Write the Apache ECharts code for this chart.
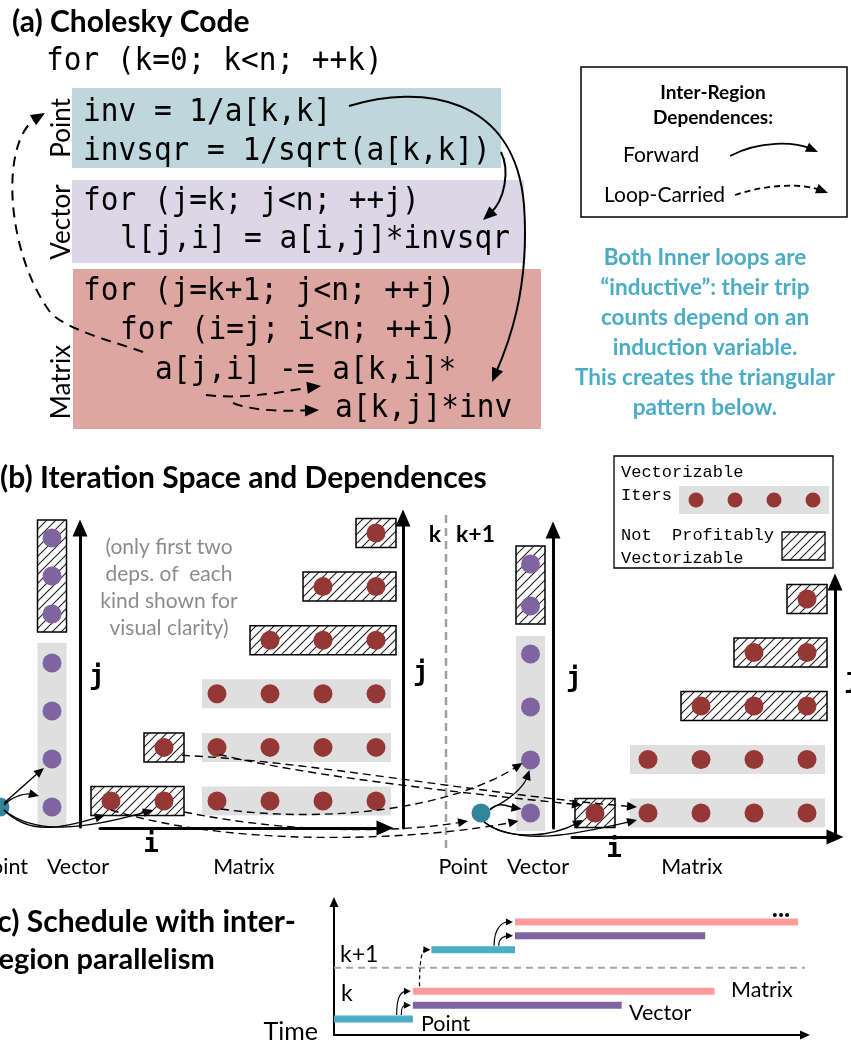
<!DOCTYPE html>
<html>
<head>
<meta charset="utf-8">
<script src="https://cdn.jsdelivr.net/npm/echarts@6/dist/echarts.min.js"></script>
<style>
html, body { margin: 0; padding: 0; background: #fff; }
#chart { width: 851px; height: 1044px; }
</style>
</head>
<body>
<div id="chart"></div>
<script>
// ---------- data ----------
// (b) vector loop iterations j, split into vectorized chunk and remainder
const vecK_vec = [0, 1, 2, 3];
const vecK_rem = [4, 5, 6];
const vecK1_vec = [1, 2, 3, 4];
const vecK1_rem = [5, 6];

// (b) matrix loop iterations [i, j]
const matK_iters = [[1, 1], [2, 1], [3, 1], [4, 1], [5, 1], [6, 1],
  [2, 2], [3, 2], [4, 2], [5, 2], [6, 2],
  [3, 3], [4, 3], [5, 3], [6, 3],
  [4, 4], [5, 4], [6, 4],
  [5, 5], [6, 5],
  [6, 6]];
const matK1_iters = [[2, 2], [3, 2], [4, 2], [5, 2], [6, 2],
  [3, 3], [4, 3], [5, 3], [6, 3],
  [4, 4], [5, 4], [6, 4],
  [5, 5], [6, 5],
  [6, 6]];

// matrix chunks per row: [j, first i, last i]
const matK_vec = [[1, 3, 6], [2, 3, 6], [3, 3, 6]];
const matK_rem = [[1, 1, 2], [2, 2, 2], [4, 4, 6], [5, 5, 6], [6, 6, 6]];
const matK1_vec = [[2, 3, 6], [3, 3, 6]];
const matK1_rem = [[2, 2, 2], [4, 4, 6], [5, 5, 6], [6, 6, 6]];

// dependences: [from space, from iteration, to space, to iteration]
const fwdDepsK = [['pK', [0, 0], 'vK', [0, 1]], ['pK', [0, 0], 'vK', [0, 0]],
  ['pK', [0, 0], 'mK', [1, 1]], ['pK', [0, 0], 'mK', [2, 1]]];
const fwdDepsK1 = [['pK1', [0, 0], 'vK1', [0, 2]], ['pK1', [0, 0], 'vK1', [0, 1]],
  ['pK1', [0, 0], 'mK1', [2, 2]], ['pK1', [0, 0], 'mK1', [3, 2]]];
const carriedDeps = [['mK', [2, 2], 'mK1', [3, 2]], ['mK', [3, 2], 'mK1', [2, 2]],
  ['mK', [3, 1], 'vK1', [0, 2]], ['mK', [2, 1], 'pK1', [0, 0]], ['mK', [1, 1], 'vK1', [0, 1]]];

// (c) schedule: [start, end] in time units for Point, Vector, Matrix
const schedRegions = ['Point', 'Vector', 'Matrix'];
const schedK = [[0, 17], [17, 62], [17, 82]];
const schedK1 = [[21, 39], [39, 80], [39, 100]];

// ---------- look ----------
const FONT = 'Lato, "Open Sans", sans-serif';
const MONO = '"DejaVu Sans Mono", monospace';
const TYPE = '"Liberation Mono", monospace';
const C_MAT = '#953735', C_VEC = '#8064a2', C_PT = '#31859c';
const C_BAND = '#dfdfdf', C_CYAN = '#4bacc6', C_PINK = '#ff9b9b';
const REGION_COLORS = [C_CYAN, C_VEC, C_PINK];

// hatch fill
const hc = document.createElement('canvas');
hc.width = 9; hc.height = 9;
const hx = hc.getContext('2d');
hx.fillStyle = '#fff'; hx.fillRect(0, 0, 9, 9);
hx.strokeStyle = '#222'; hx.lineWidth = 1.1;
hx.beginPath();
hx.moveTo(0, 9); hx.lineTo(9, 0);
hx.moveTo(-2, 2); hx.lineTo(2, -2);
hx.moveTo(7, 11); hx.lineTo(11, 7);
hx.stroke();
const hatchFill = { image: hc, repeat: 'repeat' };

// value at two pixel ends, from two anchors
function span(v0, p0, v1, p1, pa, pb) {
  const k = (v1 - v0) / (p1 - p0);
  return [v0 + (pa - p0) * k, v0 + (pb - p0) * k];
}

const axisOn = (extra, small) => Object.assign({
  axisTick: { show: false }, axisLabel: { show: false }, splitLine: { show: false },
  axisLine: {
    show: true, onZero: false, symbol: ['none', 'triangle'],
    symbolSize: small ? [9, 10] : [15, 17],
    lineStyle: { color: '#000', width: small ? 2 : 3 }
  }
}, extra);
const axisOff = (extra) => Object.assign({ show: false }, extra);
const jName = (gap) => ({ name: 'j', nameLocation: 'middle', nameGap: gap, nameRotate: 0,
  nameTextStyle: { fontFamily: MONO, fontWeight: 'bold', fontSize: 26, color: '#000' } });

// grid rects (pixel) and axis ranges from anchors
const xLm = span(1, 111, 6, 376, 100, 385), yLm = span(1, 801, 6, 533, 828, 518);
const yLv = span(0, 807, 3, 663, 827, 528), yLr = span(4, 614, 6, 538, 827, 528);
const yRv = span(1, 813, 4, 654, 828, 530), yRr = span(5, 606, 6, 564, 828, 530);
const xRm = span(2, 595, 6, 807, 572, 835), yRm = span(2, 813, 6, 599, 837, 582);
const xS = span(0, 334, 100, 798, 334, 805), yS = span(1, 1019, 8, 922, 1035, 902);

function rowBox(pad, hatched) {
  return function (params, api) {
    const a = api.coord([api.value(1), api.value(0)]);
    const b = api.coord([api.value(2), api.value(0)]);
    return {
      type: 'rect',
      shape: { x: a[0] - pad, y: a[1] - 14.5, width: b[0] - a[0] + 2 * pad, height: 29 },
      style: hatched ? { fill: hatchFill, stroke: '#000', lineWidth: 1.5 } : { fill: C_BAND }
    };
  };
}
function colBox(pad, hatched) {
  return function (params, api) {
    const a = api.coord([0, api.value(0)]);
    const b = api.coord([0, api.value(1)]);
    const top = Math.min(a[1], b[1]);
    return {
      type: 'rect',
      shape: { x: a[0] - 14.5, y: top - pad, width: 29, height: Math.abs(a[1] - b[1]) + 2 * pad },
      style: hatched ? { fill: hatchFill, stroke: '#000', lineWidth: 1.5 } : { fill: C_BAND }
    };
  };
}
const dots = (xi, yi, data, color) => ({
  type: 'scatter', xAxisIndex: xi, yAxisIndex: yi, data, symbolSize: 19, clip: false,
  itemStyle: { color, opacity: 1 }, z: 4, silent: true
});
const box = (xi, yi, data, fn) => ({
  type: 'custom', xAxisIndex: xi, yAxisIndex: yi, data, renderItem: fn, z: 2, silent: true
});

const schedRows = [[1, 2, 3], [6, 7, 8]];
const schedBars = [];
schedK.forEach((b, r) => schedBars.push([b[0], b[1], schedRows[0][r], r]));
schedK1.forEach((b, r) => schedBars.push([b[0], b[1], schedRows[1][r], r]));

const chart = echarts.init(document.getElementById('chart'));
chart.setOption({
  animation: false,
  backgroundColor: '#fff',
  grid: [
    { left: 0, top: 797, width: 20, height: 20 },     // point k (dot sits on the left edge)
    { left: 24, top: 528, width: 56, height: 299 },   // vector k
    { left: 100, top: 518, width: 285, height: 310 }, // matrix k
    { left: 461, top: 803, width: 40, height: 20 },   // point k+1
    { left: 508, top: 530, width: 45, height: 298 },  // vector k+1
    { left: 572, top: 582, width: 263, height: 255 }, // matrix k+1
    { left: 334, top: 902, width: 471, height: 133 }  // schedule
  ],
  xAxis: [
    axisOff({ gridIndex: 0, type: 'value', min: 0, max: 1 }),
    axisOff({ gridIndex: 1, type: 'category', data: ['Vector'] }),
    axisOn({ gridIndex: 2, type: 'value', min: xLm[0], max: xLm[1] }),
    axisOff({ gridIndex: 3, type: 'category', data: ['Point'] }),
    axisOff({ gridIndex: 4, type: 'category', data: ['Vector'] }),
    axisOn({ gridIndex: 5, type: 'value', min: xRm[0], max: xRm[1] }),
    axisOn({ gridIndex: 6, type: 'value', min: xS[0], max: xS[1] }, true)
  ],
  yAxis: [
    axisOff({ gridIndex: 0, type: 'category', data: ['k'] }),
    axisOn(Object.assign({ gridIndex: 1, type: 'value', position: 'right', min: yLv[0], max: yLv[1] }, jName(9))),
    axisOff({ gridIndex: 1, type: 'value', position: 'left', min: yLr[0], max: yLr[1] }),
    axisOn(Object.assign({ gridIndex: 2, type: 'value', position: 'right', offset: 18, min: yLm[0], max: yLm[1] }, jName(10))),
    axisOff({ gridIndex: 3, type: 'category', data: ['k+1'] }),
    axisOn(Object.assign({ gridIndex: 4, type: 'value', position: 'right', min: yRv[0], max: yRv[1] }, jName(13))),
    axisOff({ gridIndex: 4, type: 'value', position: 'left', min: yRr[0], max: yRr[1] }),
    axisOn({ gridIndex: 5, type: 'value', position: 'right', min: yRm[0], max: yRm[1] }),
    axisOn({ gridIndex: 6, type: 'value', min: yS[0], max: yS[1] }, true)
  ],
  series: [
    // k
    box(1, 1, [[vecK_vec[0], vecK_vec[vecK_vec.length - 1]]], colBox(20, false)),
    box(1, 2, [[vecK_rem[0], vecK_rem[vecK_rem.length - 1]]], colBox(18, true)),
    box(2, 3, matK_vec, rowBox(15, false)),
    box(2, 3, matK_rem, rowBox(20, true)),
    dots(0, 0, [[0, 0]], C_PT),
    dots(1, 1, vecK_vec.map(j => [0, j]), C_VEC),
    dots(1, 2, vecK_rem.map(j => [0, j]), C_VEC),
    dots(2, 3, matK_iters, C_MAT),
    // k+1
    box(4, 5, [[vecK1_vec[0], vecK1_vec[vecK1_vec.length - 1]]], colBox(18, false)),
    box(4, 6, [[vecK1_rem[0], vecK1_rem[vecK1_rem.length - 1]]], colBox(18, true)),
    box(5, 7, matK1_vec, rowBox(18, false)),
    box(5, 7, matK1_rem, rowBox(20, true)),
    dots(3, 4, [[0, 0]], C_PT),
    dots(4, 5, vecK1_vec.map(j => [0, j]), C_VEC),
    dots(4, 6, vecK1_rem.map(j => [0, j]), C_VEC),
    dots(5, 7, matK1_iters, C_MAT),
    // schedule
    {
      type: 'custom', xAxisIndex: 6, yAxisIndex: 8, data: schedBars, z: 3, silent: true,
      renderItem(params, api) {
        const s = api.coord([api.value(0), api.value(2)]);
        const e = api.coord([api.value(1), api.value(2)]);
        return {
          type: 'rect', shape: { x: s[0], y: s[1] - 3.5, width: e[0] - s[0], height: 7 },
          style: { fill: REGION_COLORS[api.value(3)] }
        };
      }
    },
    {
      type: 'custom', xAxisIndex: 6, yAxisIndex: 8, data: [[4.7]], z: 2, silent: true,
      renderItem(params, api) {
        const a = api.coord([0, api.value(0)]), b = api.coord([101.5, api.value(0)]);
        return {
          type: 'line', shape: { x1: a[0], y1: a[1], x2: b[0], y2: b[1] },
          style: { stroke: '#a6a6a6', lineWidth: 2, lineDash: [7, 5] }
        };
      }
    }
  ]
});

// ---------- annotations ----------
const G = [];
function txt(x, y, text, font, o) {
  o = o || {};
  const el = {
    type: 'text', x, y, z: 10, silent: true,
    style: { text, font, fill: o.fill || '#000', textAlign: o.align || 'left', textVerticalAlign: 'middle' }
  };
  if (o.rot) el.rotation = o.rot;
  if (o.sx) el.scaleX = o.sx;
  G.push(el);
}
function rect(x, y, w, h, style, z) {
  G.push({ type: 'rect', z: z || 1, silent: true, shape: { x, y, width: w, height: h }, style });
}
// cubic chain: p0, c1, c2, p1, c1, c2, p2 ... ; arrow head at the last point
function arrow(pts, o) {
  const n = pts.length, tip = pts[n - 1], c = pts[n - 2];
  const dx = tip[0] - c[0], dy = tip[1] - c[1], d = Math.hypot(dx, dy) || 1;
  const ux = dx / d, uy = dy / d, L = o.head[0], W = o.head[1];
  const bx = tip[0] - ux * L, by = tip[1] - uy * L;
  for (let k = 1; k + 2 < n; k += 3) {
    const s = pts[k - 1];
    const e = (k + 2 === n - 1) ? [tip[0] - ux * L * 0.7, tip[1] - uy * L * 0.7] : pts[k + 2];
    G.push({ type: 'bezierCurve', z: 20, silent: true,
      shape: { x1: s[0], y1: s[1], cpx1: pts[k][0], cpy1: pts[k][1], cpx2: pts[k + 1][0], cpy2: pts[k + 1][1], x2: e[0], y2: e[1] },
      style: { fill: null, stroke: '#000', lineWidth: o.w, lineDash: o.dash || null } });
  }
  G.push({ type: 'polygon', z: 21, silent: true,
    shape: { points: [tip, [bx - uy * W, by + ux * W], [bx + uy * W, by - ux * W]] }, style: { fill: '#000' } });
}
const SPACE = { pK: [0, 0], vK: [1, 1], mK: [2, 3], pK1: [3, 4], vK1: [4, 5], mK1: [5, 7], sched: [6, 8] };
function px(space, v) {
  const a = SPACE[space];
  return chart.convertToPixel({ xAxisIndex: a[0], yAxisIndex: a[1] }, v);
}
function depArrow(dep, lay, o) {
  const s = px(dep[0], dep[1]), e = px(dep[2], dep[3]);
  const p0 = [s[0] + lay[0][0], s[1] + lay[0][1]], p1 = [e[0] + lay[1][0], e[1] + lay[1][1]];
  arrow([p0, [p0[0] + lay[2][0], p0[1] + lay[2][1]], [p1[0] + lay[3][0], p1[1] + lay[3][1]], p1], o);
}

// (a) code
txt(12, 22, '(a) Cholesky Code', 'bold 30px ' + FONT);
rect(72, 88, 429, 80, { fill: '#bdd7dc' });
rect(72, 180, 452, 83, { fill: '#dcd7e6' });
rect(73, 269, 468, 160, { fill: '#dda6a1' });
const CODE = '32px ' + MONO, SX = 0.92;
txt(46, 62, 'for (k=0; k<n; ++k)', CODE, { sx: SX });
txt(83, 113, 'inv = 1/a[k,k]', CODE, { sx: SX });
txt(83, 152, 'invsqr = 1/sqrt(a[k,k])', CODE, { sx: SX });
txt(83, 202, 'for (j=k; j<n; ++j)', CODE, { sx: SX });
txt(120, 240, 'l[j,i] = a[i,j]*invsqr', CODE, { sx: SX });
txt(83, 292, 'for (j=k+1; j<n; ++j)', CODE, { sx: SX });
txt(120, 331, 'for (i=j; i<n; ++i)', CODE, { sx: SX });
txt(155, 371, 'a[j,i] -= a[k,i]*', CODE, { sx: SX });
txt(335, 409, 'a[k,j]*inv', CODE, { sx: SX });
txt(62, 128, 'Point', '26px ' + FONT, { align: 'center', rot: Math.PI / 2 });
txt(62, 222, 'Vector', '26px ' + FONT, { align: 'center', rot: Math.PI / 2 });
txt(62, 382, 'Matrix', '26px ' + FONT, { align: 'center', rot: Math.PI / 2 });
const A_SOLID = { w: 2, head: [14, 6] }, A_DASH = { w: 2, head: [14, 6], dash: [10, 7] };
arrow([[349, 106], [420, 84], [515, 95], [524, 205], [530, 290], [508, 345], [492, 382]], A_SOLID);
arrow([[501, 152], [510, 170], [505, 200], [483, 220]], A_SOLID);
arrow([[143, 352], [115, 342], [66, 330], [50, 312], [5, 250], [0, 140], [45, 113]], A_DASH);
arrow([[206, 395], [250, 400], [290, 390], [321, 386]], A_DASH);
arrow([[233, 403], [255, 412], [290, 411], [319, 410]], A_DASH);

// (a) legend + note
rect(581, 67, 266, 150, { fill: 'none', stroke: '#000', lineWidth: 1.5 });
txt(713, 93, 'Inter-Region', 'bold 19px ' + FONT, { align: 'center' });
txt(713, 118, 'Dependences:', 'bold 19px ' + FONT, { align: 'center' });
txt(623, 155, 'Forward', '21px ' + FONT);
txt(604, 195, 'Loop-Carried', '21px ' + FONT);
arrow([[730, 156], [760, 140], [795, 142], [818, 152]], { w: 1.8, head: [12, 5] });
arrow([[735, 195], [770, 183], [805, 184], [828, 193]], { w: 1.8, head: [12, 5], dash: [6, 4] });
['Both Inner loops are', '\u201cinductive\u201d: their trip', 'counts depend on an',
  'induction variable.', 'This creates the triangular', 'pattern below.'].forEach((s, k) =>
  txt(705, 258 + k * 30, s, 'bold 22.5px ' + FONT, { align: 'center', fill: C_CYAN }));

// (b)
txt(0, 478, '(b) Iteration Space and Dependences', 'bold 30px ' + FONT);
['(only first two', 'deps. of  each', 'kind shown for', 'visual clarity)'].forEach((s, k) =>
  txt(169, 547 + k * 27, s, '21px ' + FONT, { align: 'center', fill: '#8c8c8c' }));
const LBL = '21.5px ' + FONT;
txt(28, 867, 'Point', LBL, { align: 'right' });
txt(78, 867, 'Vector', LBL, { align: 'center' });
txt(244, 867, 'Matrix', LBL, { align: 'center' });
txt(463, 867, 'Point', LBL, { align: 'center' });
txt(538, 867, 'Vector', LBL, { align: 'center' });
txt(692, 867, 'Matrix', LBL, { align: 'center' });
txt(151, 845, 'i', 'bold 26px ' + MONO, { align: 'center' });
txt(614, 850, 'i', 'bold 26px ' + MONO, { align: 'center' });
txt(844, 680, 'j', 'bold 26px ' + MONO);
txt(435, 535, 'k', 'bold 23px ' + FONT, { align: 'center' });
txt(456, 535, 'k+1', 'bold 23px ' + FONT);
G.push({ type: 'line', z: 1, silent: true, shape: { x1: 446, y1: 515, x2: 446, y2: 848 },
  style: { stroke: '#a0a0a0', lineWidth: 2.5, lineDash: [8, 5] } });

rect(614, 456, 219, 112, { fill: '#fff', stroke: '#000', lineWidth: 1.3 }, 5);
const LEG = '17px ' + TYPE;
txt(621, 472, 'Vectorizable', LEG);
txt(621, 495, 'Iters', LEG);
txt(621, 535, 'Not  Profitably', LEG);
txt(621, 558, 'Vectorizable', LEG);
rect(679, 486, 150, 28, { fill: C_BAND }, 6);
[696, 735, 774, 813].forEach(x => G.push({ type: 'circle', z: 7, silent: true,
  shape: { cx: x, cy: 500, r: 7.5 }, style: { fill: C_MAT } }));
rect(782, 532, 43, 28, { fill: hatchFill, stroke: '#000', lineWidth: 1.3 }, 6);

const B_SOLID = { w: 1.4, head: [10, 4.5] }, B_DASH = { w: 1.4, head: [10, 4.5], dash: [8, 5] };
const fwdLayK = [[[4, -4], [-8, 9], [14, -12], [-12, 10]], [[4, -2], [-13, -11], [10, -10], [-12, -3]],
  [[4, 3], [-6, 14], [25, 25], [-45, 14]], [[4, 3], [-11, 9], [30, 25], [-70, 20]]];
const fwdLayK1 = [[[9, -4], [-1, 10], [18, -8], [-6, 18]], [[9, -3], [-9, -4], [8, -10], [-12, -2]],
  [[3, 9], [-12, 7], [25, 20], [-30, 16]], [[3, 9], [-11, 7], [35, 25], [-60, 14]]];
const carriedLay = [[[18, 8], [-11, -6], [120, 5], [-150, -12]], [[2, 7], [-13, -8], [90, 22], [-120, -12]],
  [[4, 8], [-8, 3], [110, 15], [-70, 45]], [[20, 11], [-13, 8], [110, 22], [-70, 12]],
  [[0, 9], [-12, 8], [130, 40], [-90, 18]]];
fwdDepsK.forEach((d, k) => depArrow(d, fwdLayK[k], B_SOLID));
fwdDepsK1.forEach((d, k) => depArrow(d, fwdLayK1[k], B_SOLID));
carriedDeps.forEach((d, k) => depArrow(d, carriedLay[k], B_DASH));

// (c)
txt(-10, 922, '(c) Schedule with inter-', 'bold 30px ' + FONT);
txt(-12, 960, 'region parallelism', 'bold 29px ' + FONT);
txt(340, 955, 'k+1', '23px ' + FONT);
txt(341, 994, 'k', '23px ' + FONT);
txt(318, 1032, 'Time', '25px ' + FONT, { align: 'right' });
txt(421, 1024, schedRegions[0], LBL);
txt(629, 1013, schedRegions[1], LBL);
txt(731, 990, schedRegions[2], LBL);
txt(781, 909, '...', 'bold 26px ' + FONT, { align: 'center' });
const schedDeps = [['sched', [14.5, 1], 'sched', [17, 2]], ['sched', [13.5, 1], 'sched', [17, 3]],
  ['sched', [35.5, 6], 'sched', [39, 7]], ['sched', [34.5, 6], 'sched', [39, 8]]];
const schedLay = [[[0, -4], [-2, 0], [0, -8], [-8, 0]], [[0, -4], [-2, 0], [0, -20], [-9, 0]],
  [[0, -4], [-2, 0], [0, -8], [-8, 0]], [[0, -4], [-2, 0], [0, -20], [-9, 0]]];
schedDeps.forEach((d, k) => depArrow(d, schedLay[k], { w: 1.2, head: [7, 3.5] }));
depArrow(['sched', [18, 3], 'sched', [21, 6]], [[2, -5], [-1, 0], [0, -24], [-9, 0]],
  { w: 1.2, head: [7, 3.5], dash: [4, 3] });

chart.setOption({ graphic: { elements: G } });
</script>
</body>
</html>
